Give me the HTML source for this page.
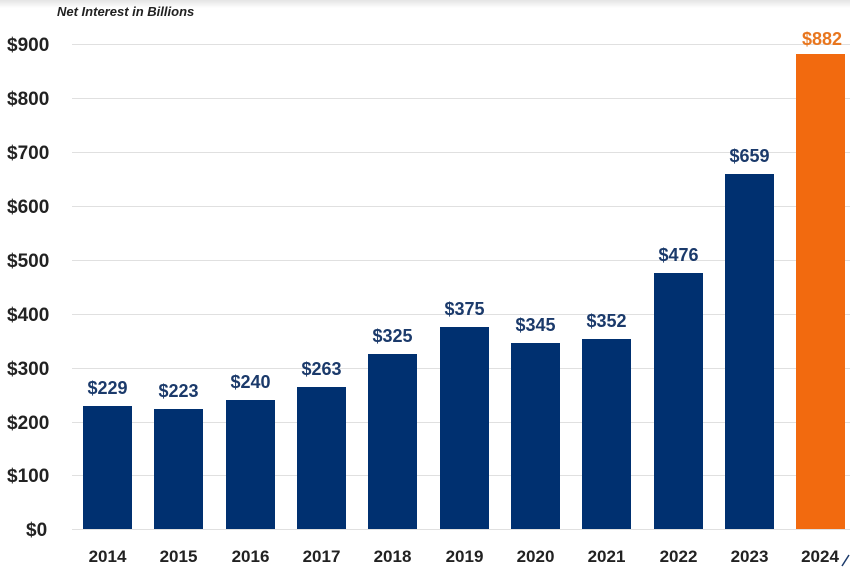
<!DOCTYPE html>
<html><head><style>body{margin:0;background:#fff}svg{display:block}</style></head><body>
<svg width="850" height="567" xmlns="http://www.w3.org/2000/svg" font-family="Liberation Sans, sans-serif">
<defs><linearGradient id="g" x1="0" y1="0" x2="0" y2="1"><stop offset="0" stop-color="#e4e4e4"/><stop offset="1" stop-color="#fff"/></linearGradient></defs>
<rect width="850" height="567" fill="#fff"/>
<rect width="850" height="8" fill="url(#g)"/>
<text x="57" y="16" font-size="13" font-weight="bold" font-style="italic" fill="#222">Net Interest in Billions</text>
<g stroke="#e0e0e0" stroke-width="1">
<line x1="72" x2="850" y1="44.5" y2="44.5"/><line x1="72" x2="850" y1="98.5" y2="98.5"/><line x1="72" x2="850" y1="152.5" y2="152.5"/><line x1="72" x2="850" y1="206.5" y2="206.5"/><line x1="72" x2="850" y1="260.5" y2="260.5"/><line x1="72" x2="850" y1="314.5" y2="314.5"/><line x1="72" x2="850" y1="368.5" y2="368.5"/><line x1="72" x2="850" y1="422.5" y2="422.5"/><line x1="72" x2="850" y1="475.5" y2="475.5"/><line x1="72" x2="850" y1="529.5" y2="529.5"/>
</g>
<g font-size="19" font-weight="bold" fill="#222" text-anchor="start">
<text x="7" y="51">$900</text><text x="7" y="105">$800</text><text x="7" y="159">$700</text><text x="7" y="213">$600</text><text x="7" y="267">$500</text><text x="7" y="321">$400</text><text x="7" y="375">$300</text><text x="7" y="429">$200</text><text x="7" y="482">$100</text><text x="26" y="536">$0</text>
</g>
<g fill="#003070">
<rect x="83" y="406" width="49" height="123"/>
<rect x="154" y="409" width="49" height="120"/>
<rect x="226" y="400" width="49" height="129"/>
<rect x="297" y="387" width="49" height="142"/>
<rect x="368" y="354" width="49" height="175"/>
<rect x="440" y="327" width="49" height="202"/>
<rect x="511" y="343" width="49" height="186"/>
<rect x="582" y="339" width="49" height="190"/>
<rect x="654" y="273" width="49" height="256"/>
<rect x="725" y="174" width="49" height="355"/>
</g>
<rect x="796" y="54" width="49" height="475" fill="#F26A0F"/>
<g font-size="18" font-weight="bold" fill="#1b3a6b" text-anchor="middle">
<text x="107.5" y="394">$229</text><text x="178.5" y="397">$223</text><text x="250.5" y="388">$240</text><text x="321.5" y="375">$263</text><text x="392.5" y="342">$325</text><text x="464.5" y="315">$375</text><text x="535.5" y="331">$345</text><text x="606.5" y="327">$352</text><text x="678.5" y="261">$476</text><text x="749.5" y="162">$659</text>
<text x="822" y="45" fill="#E8761E">$882</text>
</g>
<g font-size="17" font-weight="bold" fill="#222" text-anchor="middle">
<text x="107.5" y="562">2014</text><text x="178.5" y="562">2015</text><text x="250.5" y="562">2016</text><text x="321.5" y="562">2017</text><text x="392.5" y="562">2018</text><text x="464.5" y="562">2019</text><text x="535.5" y="562">2020</text><text x="606.5" y="562">2021</text><text x="678.5" y="562">2022</text><text x="749.5" y="562">2023</text><text x="820" y="562">2024</text>
</g>
<line x1="842" y1="566" x2="849" y2="555" stroke="#1b3a6b" stroke-width="1.5"/>
</svg>
</body></html>
